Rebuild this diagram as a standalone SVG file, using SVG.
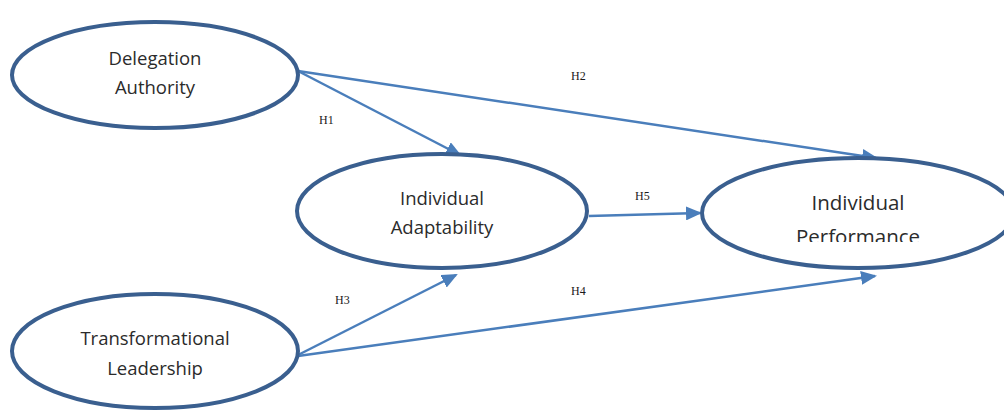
<svg xmlns="http://www.w3.org/2000/svg" width="1004" height="410" viewBox="0 0 1004 410">
<style>
.node{fill:#ffffff;stroke:#3a5f8f;stroke-width:4}
.lbl{font-family:"Open Sans",Lato,sans-serif;font-size:18.5px;fill:#2b2b2b;text-anchor:middle}
.big{font-size:20.5px}
.conn{stroke:#4a7ebb;stroke-width:2.5;fill:none;marker-end:url(#ah)}
.h{font-family:"Liberation Serif",serif;font-size:12px;fill:#1a1a1a}
</style>
<defs>
<marker id="ah" viewBox="0 0 16 14" refX="14" refY="7" markerWidth="16" markerHeight="14" markerUnits="userSpaceOnUse" orient="auto">
<path d="M0,0 L16,7 L0,14 z" fill="#4a7ebb"/>
</marker>
<clipPath id="pc"><rect x="700" y="150" width="304" height="92"/></clipPath>
</defs>
<g id="connectors">
<line class="conn" x1="298" y1="71" x2="460" y2="155"/>
<line class="conn" x1="298" y1="71" x2="876" y2="158"/>
<line class="conn" x1="589" y1="216" x2="700" y2="213"/>
<line class="conn" x1="298" y1="355" x2="456" y2="275"/>
<line class="conn" x1="298" y1="356" x2="875" y2="276"/>
<text class="h" x="319" y="124">H1</text>
<text class="h" x="571" y="80">H2</text>
<text class="h" x="335" y="304">H3</text>
<text class="h" x="571" y="295">H4</text>
<text class="h" x="635" y="200">H5</text>
</g>
<g id="delegation">
<ellipse class="node" cx="155" cy="75" rx="143" ry="53"/>
<text class="lbl" x="155" y="65">Delegation</text>
<text class="lbl" x="155" y="94">Authority</text>
</g>
<g id="adaptability">
<ellipse class="node" cx="442" cy="211" rx="145" ry="57"/>
<text class="lbl" x="442" y="205">Individual</text>
<text class="lbl" x="442" y="234">Adaptability</text>
</g>
<g id="performance">
<ellipse class="node" cx="858" cy="213" rx="156" ry="55"/>
<g clip-path="url(#pc)">
<text class="lbl big" x="858" y="210">Individual</text>
<text class="lbl big" x="858" y="244">Performance</text>
</g>
</g>
<g id="transformational">
<ellipse class="node" cx="155" cy="351" rx="143" ry="57"/>
<text class="lbl" x="155" y="345">Transformational</text>
<text class="lbl" x="155" y="375">Leadership</text>
</g>
</svg>
